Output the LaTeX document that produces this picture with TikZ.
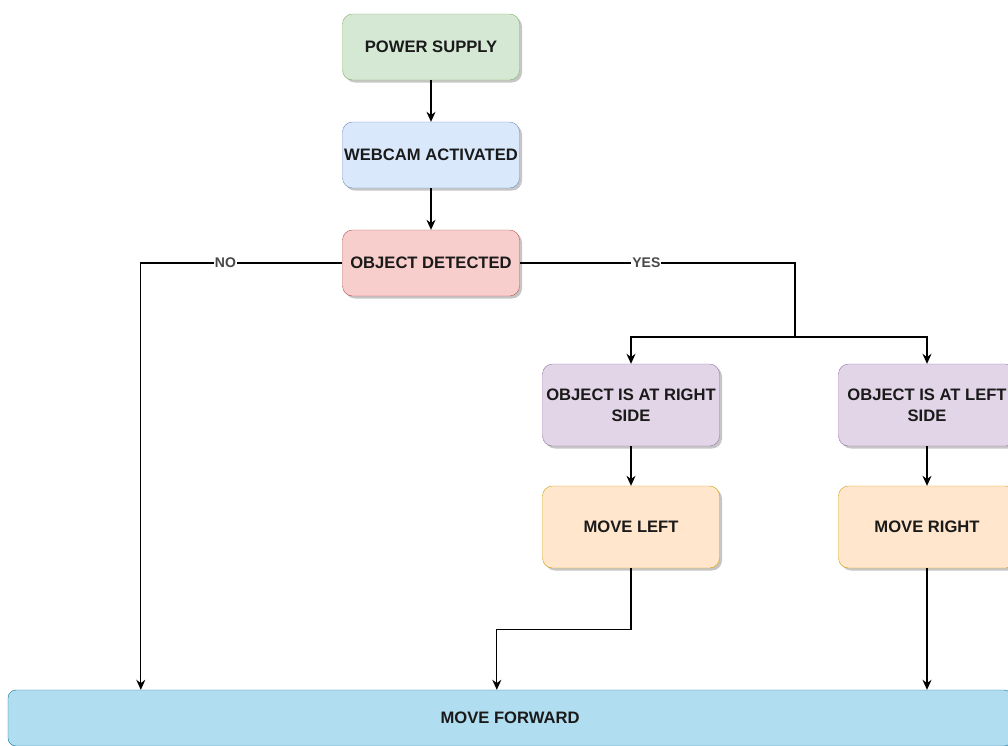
\documentclass[tikz,border=0pt]{standalone}
\usepackage{fontspec}
\setmainfont{Liberation Sans}
\usepackage{xcolor}
\usetikzlibrary{arrows.meta,positioning,calc,shadows}
\definecolor{grnfill}{HTML}{D5E8D4}\definecolor{grnline}{HTML}{82B366}
\definecolor{blufill}{HTML}{DAE8FC}\definecolor{bluline}{HTML}{6C8EBF}
\definecolor{redfill}{HTML}{F8CECC}\definecolor{redline}{HTML}{B85450}
\definecolor{purfill}{HTML}{E1D5E7}\definecolor{purline}{HTML}{9673A6}
\definecolor{orgfill}{HTML}{FFE6CC}\definecolor{orgline}{HTML}{D79B00}
\definecolor{fwdfill}{HTML}{B1DDF0}\definecolor{fwdline}{HTML}{10739E}
\definecolor{txtdark}{HTML}{1A1A1A}

\begin{document}
\begin{tikzpicture}[x=1pt,y=-1pt,
  box/.style={draw,rounded corners=10pt,minimum width=177pt,minimum height=66pt,align=center,
    inner xsep=0pt,inner ysep=1pt,text=txtdark,font=\fontsize{16.6}{21}\selectfont\bfseries,
    drop shadow={shadow xshift=2.5pt,shadow yshift=-2.5pt,fill=gray!45,opacity=1}},
  boxgrn/.style={box,fill=grnfill,draw=grnline},
  boxblu/.style={box,fill=blufill,draw=bluline},
  boxred/.style={box,fill=redfill,draw=redline},
  boxpur/.style={box,fill=purfill,draw=purline,minimum height=82pt},
  boxorg/.style={box,fill=orgfill,draw=orgline,minimum height=82pt},
  conn/.style={draw=black,line width=1.1pt,-{Stealth[length=10pt,width=9pt]}},
  wire/.style={draw=black,line width=1.1pt},
  tag/.style={fill=white,inner sep=1pt,text=txtdark!80,font=\fontsize{14}{16}\selectfont\bfseries}]
\useasboundingbox (0,0) rectangle (1008,745);

% boxes
\foreach \nm/\xc/\yc/\sty/\txt in {pwr/431/47/boxgrn/{POWER SUPPLY},
    cam/431/155/boxblu/{WEBCAM ACTIVATED},
    det/431/263/boxred/{OBJECT DETECTED},
    rside/631/405/boxpur/{OBJECT IS AT RIGHT\\SIDE},
    lside/927/405/boxpur/{OBJECT IS AT LEFT\\SIDE},
    mleft/631/527/boxorg/{MOVE LEFT},
    mright/927/527/boxorg/{MOVE RIGHT}}{
  \node[\sty] (\nm) at (\xc,\yc) {\txt};
}
\node[box,fill=fwdfill,draw=fwdline,minimum width=1004pt,minimum height=56pt,rounded corners=8pt]
  (fwd) at (510,718) {MOVE FORWARD};

% connectors
\coordinate (split) at (795,337);
\draw[conn] (pwr) -- (cam);
\draw[conn] (cam) -- (det);
\draw[conn] (det.west) -| ([xshift=133pt]fwd.north west) node[tag,pos=0.29] {NO};
\draw[wire] (det.east) -| (split) node[tag,pos=0.23] {YES};
\draw[conn] (split) -| (rside.north);
\draw[conn] (split) -| (lside.north);
\draw[conn] (rside) -- (mleft);
\draw[conn] (lside) -- (mright);
\draw[conn] (mleft.south) -- ++(0,61) -| ([xshift=489pt]fwd.north west);
\draw[conn] (mright.south) -- (mright.south |- fwd.north);
\end{tikzpicture}
\end{document}
